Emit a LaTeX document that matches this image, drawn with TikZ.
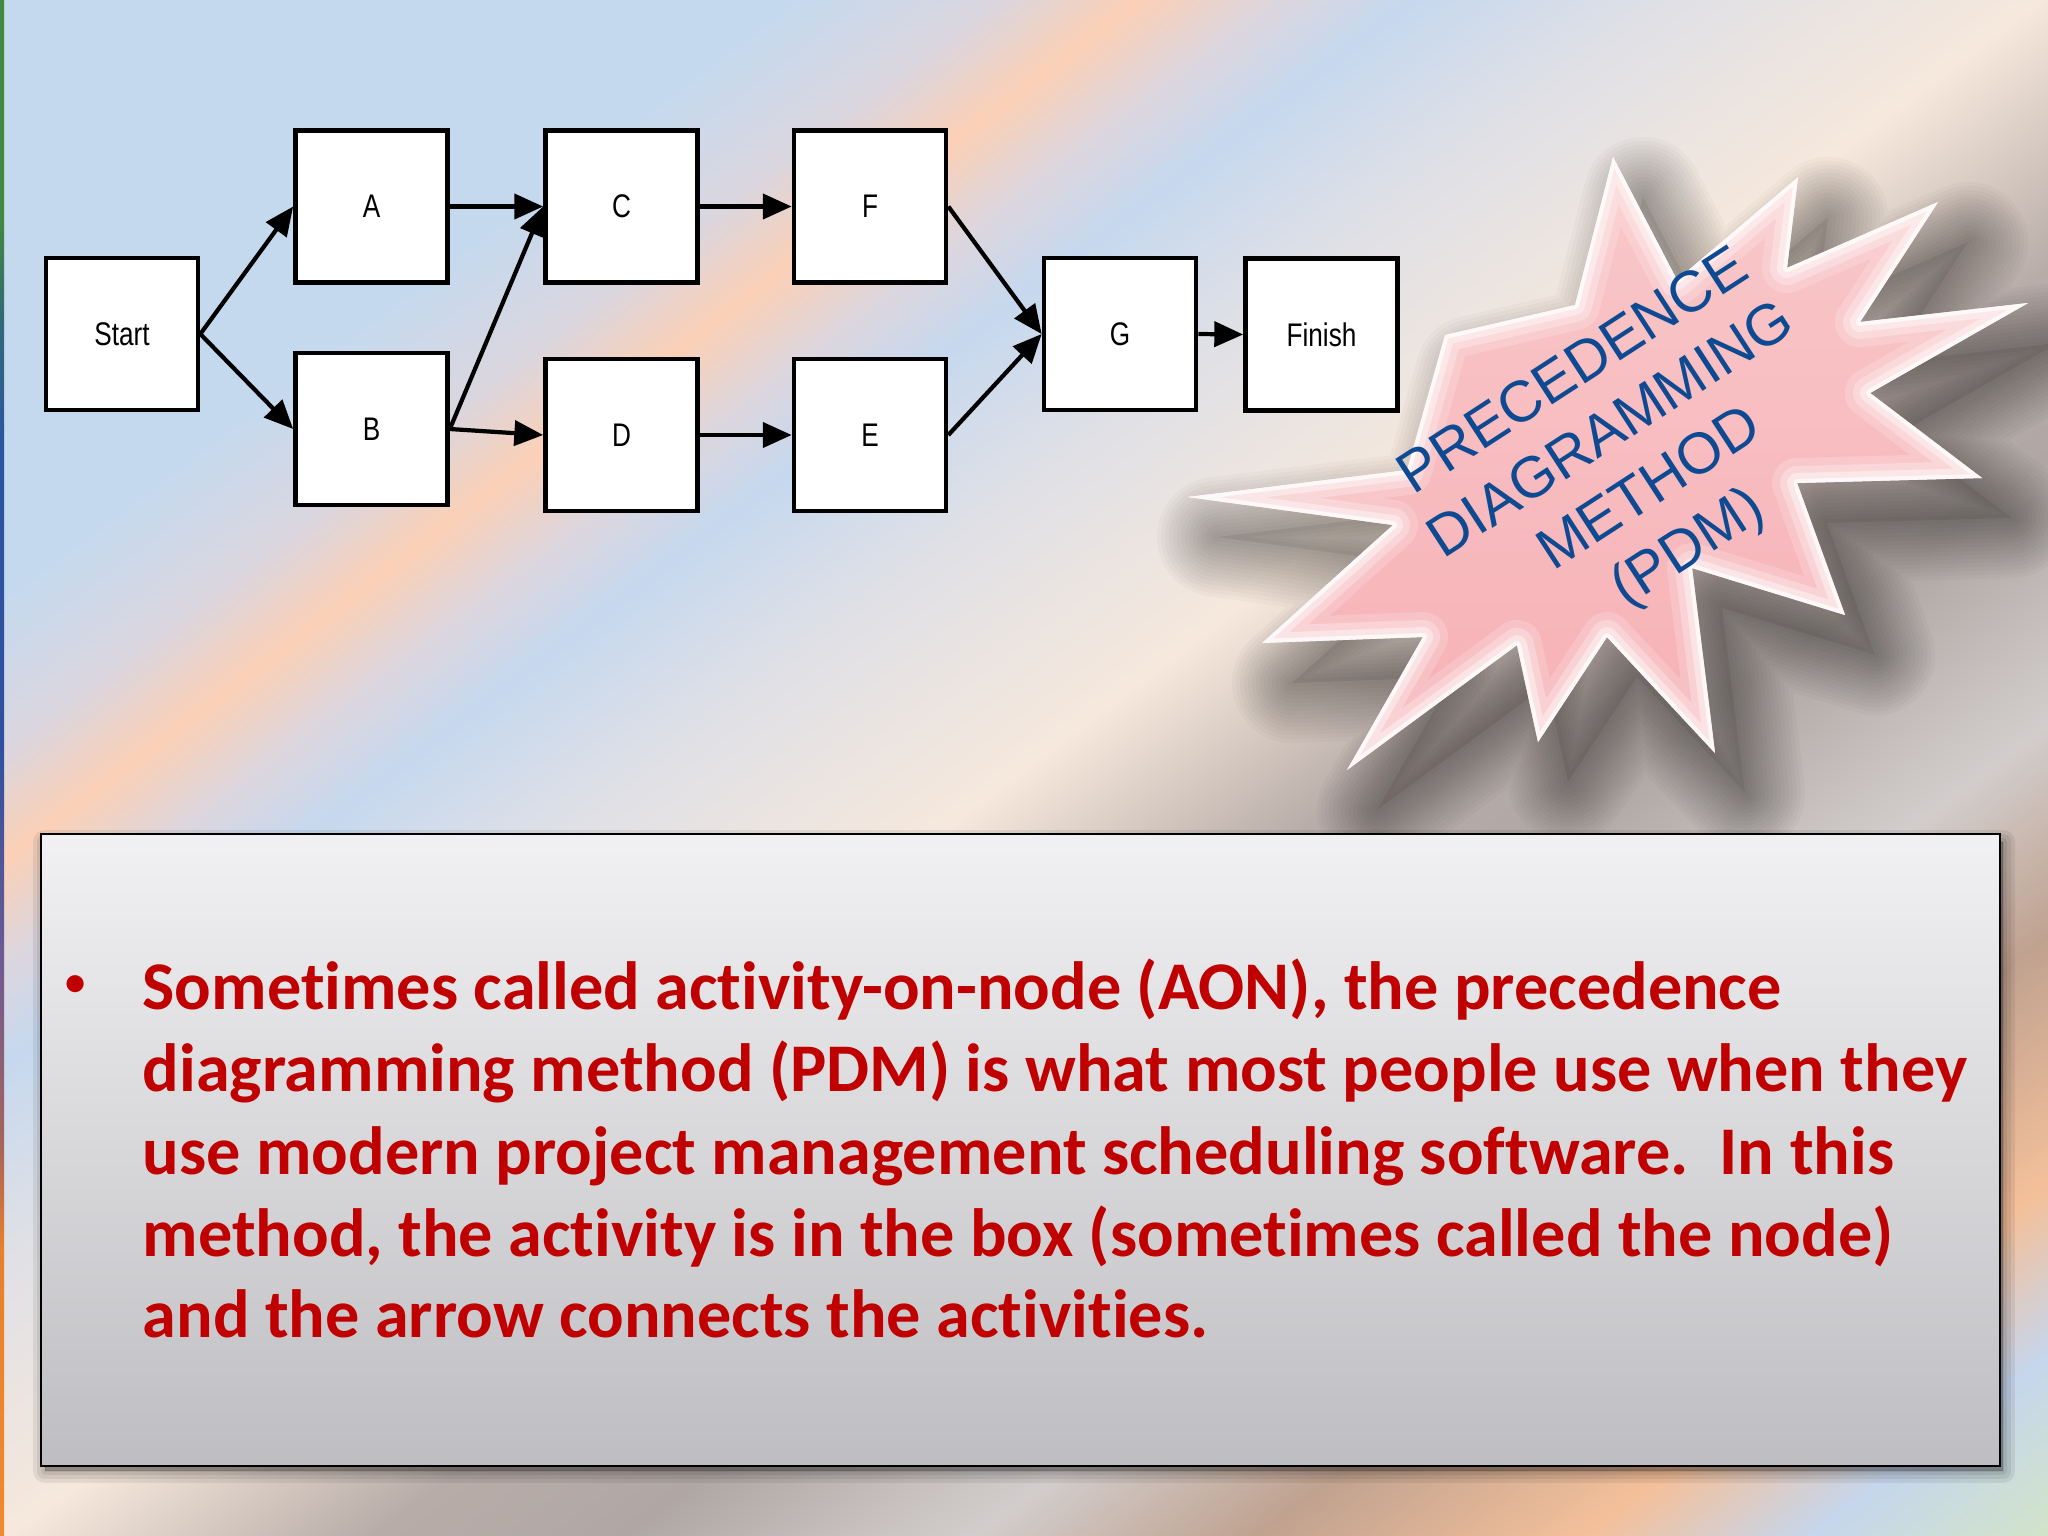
\documentclass[tikz,border=0pt]{standalone}
\usepackage{fontspec}
\setmainfont{Liberation Sans}
\newfontfamily\narrowfont[FakeStretch=0.8]{Liberation Sans}
\newfontfamily\calfont[Ligatures=NoCommon]{Carlito}
\usetikzlibrary{arrows.meta}

\definecolor{b0}{HTML}{C5D9EE}
\definecolor{b1}{HTML}{DAD6DF}
\definecolor{b2}{HTML}{FBD0B6}
\definecolor{b3}{HTML}{DCD6DE}
\definecolor{b4}{HTML}{C6D8EE}
\definecolor{b5}{HTML}{DFE0E6}
\definecolor{b6}{HTML}{F6E8DC}
\definecolor{b7}{HTML}{B8ACA8}
\definecolor{b8}{HTML}{B0A7A4}
\definecolor{b9}{HTML}{D2CDCC}
\definecolor{b10}{HTML}{C0A290}
\definecolor{b11}{HTML}{F4C09A}
\definecolor{b12}{HTML}{C6D6EC}
\definecolor{b13}{HTML}{D2E4C8}

\definecolor{s0}{HTML}{F08A30}
\definecolor{s1}{HTML}{E8802C}
\definecolor{s2}{HTML}{A8645A}
\definecolor{s3}{HTML}{6A5A96}
\definecolor{s4}{HTML}{2F50A0}
\definecolor{s5}{HTML}{2D55A0}
\definecolor{s6}{HTML}{2F6A78}
\definecolor{s7}{HTML}{418840}

\definecolor{boxred}{HTML}{C00000}
\definecolor{starblue}{HTML}{0E4A92}
\definecolor{pinktop}{HTML}{F9C8CA}
\definecolor{pinkbot}{HTML}{F6B0B5}
\definecolor{boxtop}{HTML}{F1F1F3}
\definecolor{boxbot}{HTML}{BEBDC1}

\pgfdeclarehorizontalshading{bgshade}{100bp}{color(0bp)=(b0); color(25bp)=(b0); color(34.75bp)=(b0); color(37.19bp)=(b1); color(38.96bp)=(b2); color(40.64bp)=(b3); color(42.27bp)=(b4); color(45.32bp)=(b5); color(49.99bp)=(b6); color(54.46bp)=(b7); color(57.51bp)=(b8); color(61.77bp)=(b9); color(65.23bp)=(b10); color(69.29bp)=(b11); color(72.03bp)=(b12); color(75bp)=(b13); color(100bp)=(b13)}

\pgfdeclareverticalshading{stripshade}{100bp}{color(0bp)=(s0); color(25bp)=(s0); color(34.3bp)=(s1); color(37.6bp)=(s2); color(44.1bp)=(s3); color(50.6bp)=(s4); color(60.4bp)=(s5); color(64.6bp)=(s6); color(67.8bp)=(s7); color(75bp)=(s7); color(100bp)=(s7)}

\tikzset{
  actbox/.style={draw=black, line width=1.3pt, fill=white, minimum width=1.52cm, minimum height=1.52cm, inner sep=0pt, font=\narrowfont\fontsize{9.3}{11}\selectfont},
  flow/.style={-{Triangle[length=8.2pt,width=7.1pt]}, line width=1.2pt},
  starpath/.style={insert path={(1613,157) -- (1677,280) -- (1798,177) -- (1787,268) -- (1938,202) -- (1860,322) -- (2028,303) -- (1870,393) -- (1982,478) -- (1797,483) -- (1845,615) -- (1692,568) -- (1715,753) -- (1607,637) -- (1538,742) -- (1517,645) -- (1347,770) -- (1423,637) -- (1262,643) -- (1393,525) -- (1187,497) -- (1407,470) -- (1445,335) -- (1575,305) -- cycle}},
  bodytext/.style={anchor=base west, inner sep=0pt, text=boxred, font=\calfont\bfseries\fontsize{19.4pt}{24pt}\selectfont}
}

\begin{document}
\begin{tikzpicture}[x=0.01cm,y=-0.01cm]
\useasboundingbox (0,0) rectangle (2048,1536);
\clip (0,0) rectangle (2048,1536);
% background
\begin{scope}[transform canvas={rotate=-52.9}]
\shade[shading=bgshade] (0cm,-9.4cm) rectangle (24.61cm,16.5cm);
\end{scope}
\shade[shading=stripshade] (0,0) rectangle (4,1536);

% starburst shadow (soft)
\fill[black, opacity=0.07, shift={(30,40)}, starpath];
\foreach \w in {120,112,104,96,88,80,72,64,56,48,40,32,24,16,8} {
  \draw[black, opacity=0.022, line width=\w*0.01cm, line join=round, shift={(30,40)}, starpath];
}
% starburst
\shade[top color=pinktop, bottom color=pinkbot, starpath];
\begin{scope}
\clip[starpath];
\draw[white, line width=0.5cm, opacity=0.18, line join=round, starpath];
\draw[white, line width=0.34cm, opacity=0.28, line join=round, starpath];
\draw[white, line width=0.2cm, opacity=0.4, line join=round, starpath];
\draw[white, line width=0.08cm, opacity=0.75, line join=round, starpath];
\end{scope}
\node[rotate=33, align=center, inner sep=0pt, text=starblue, font=\fontsize{16.5}{19.9}\selectfont] (title) at (1632,462) {PRECEDENCE\\DIAGRAMMING\\METHOD\\(PDM)};

% network
\node[actbox] (start) at (122,334) {Start};
\node[actbox] (a) at (371.5,206.5) {A};
\node[actbox] (b) at (371.5,429) {B};
\node[actbox] (c) at (621.5,206.5) {C};
\node[actbox] (d) at (621.5,435) {D};
\node[actbox] (f) at (870,206.5) {F};
\node[actbox] (e) at (870,435) {E};
\node[actbox] (g) at (1120,334) {G};
\node[actbox] (fin) at (1321.5,334.5) {Finish};

\draw[flow] (start.east) -- (a.west);
\draw[flow] (start.east) -- (b.west);
\draw[flow] (a.east) -- (c.west);
\draw[flow] (b.east) -- (c.west);
\draw[flow] (b.east) -- (d.west);
\draw[flow] (c.east) -- (f.west);
\draw[flow] (d.east) -- (e.west);
\draw[flow] (f.east) -- (g.west);
\draw[flow] (e.east) -- (g.west);
\draw[flow] (g.east) -- (fin.west);

% text box shadow
\foreach \w in {24,16,8,2} {
  \filldraw[black, opacity=0.07, line width=\w*0.01cm, line join=round] (45,842) rectangle (2003,1471);
}
\draw[line width=0.7pt, top color=boxtop, bottom color=boxbot] (41,834) rectangle (2000,1466);

\node[anchor=center, inner sep=0pt, text=boxred, font=\calfont\bfseries\fontsize{11.5pt}{14pt}\selectfont] (bul) at (76,986) {•};
\node[bodytext] (l1) at (142,1009.6) {Sometimes called activity-on-node (AON), the precedence};
\node[bodytext] (l2) at (142,1091.9) {diagramming method (PDM) is what most people use when they};
\node[bodytext] (l3) at (142,1174.2) {use modern project management scheduling software.\ \ In this};
\node[bodytext] (l4) at (142,1256.4) {method, the activity is in the box (sometimes called the node)};
\node[bodytext] (l5) at (142,1337.4) {and the arrow connects the activities.};
\end{tikzpicture}
\end{document}
